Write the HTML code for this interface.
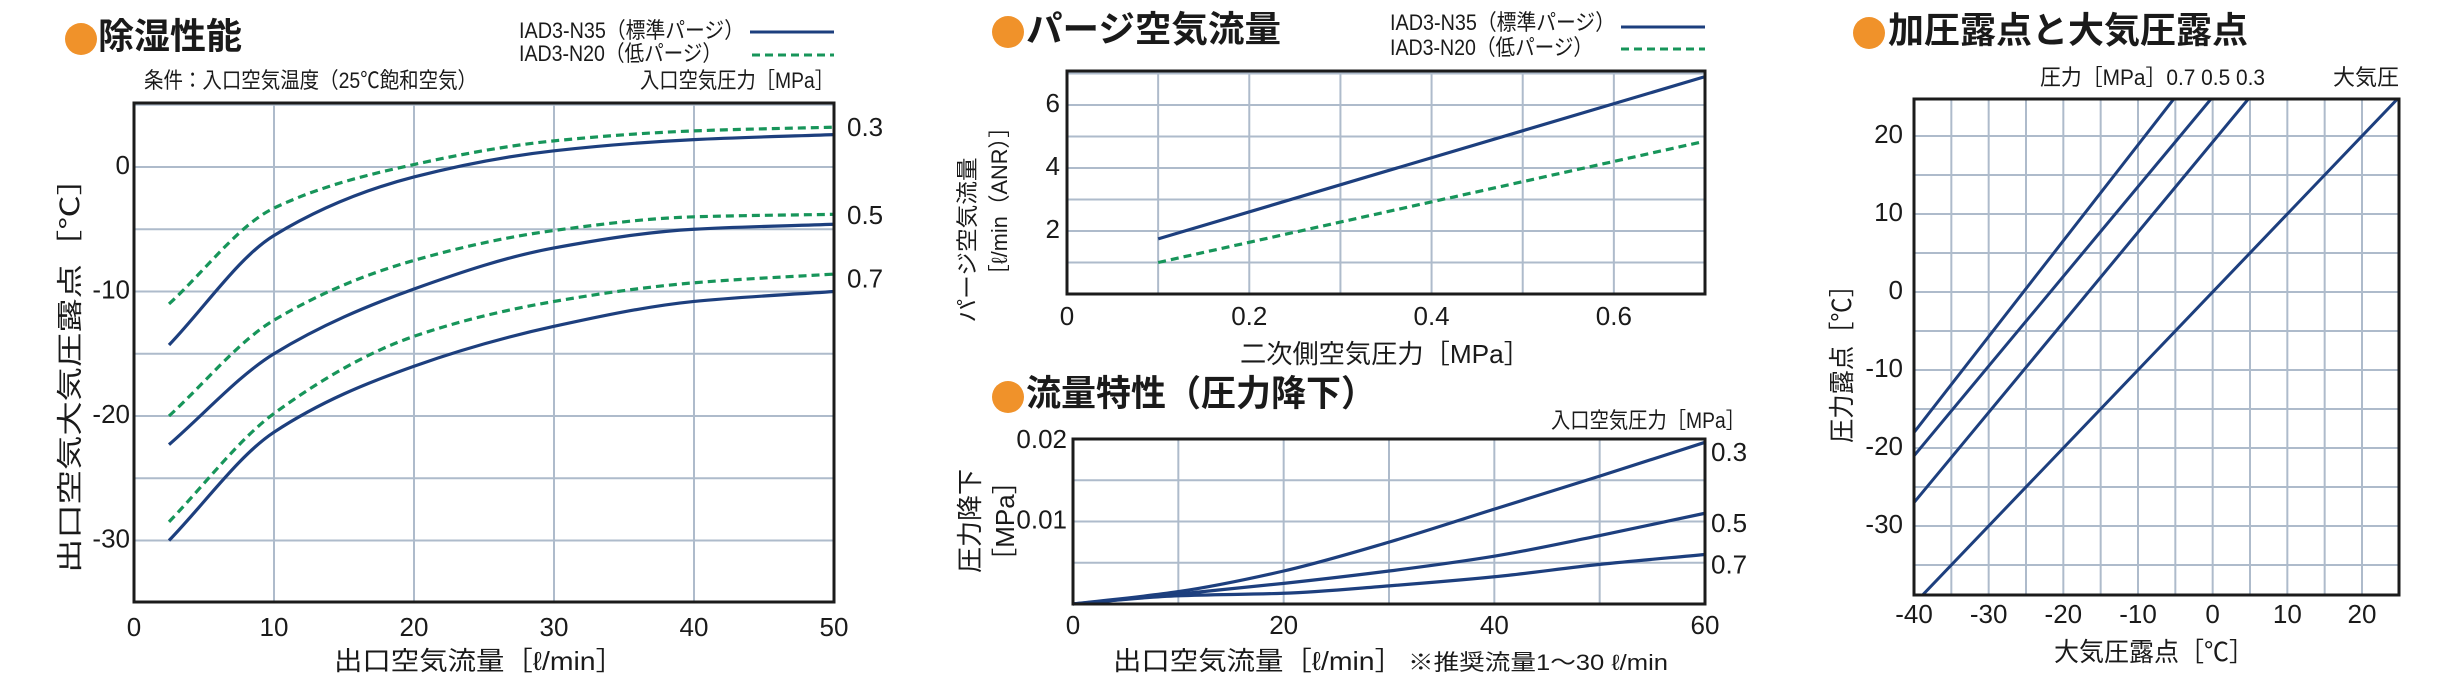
<!DOCTYPE html>
<html><head><meta charset="utf-8"><style>
html,body{margin:0;padding:0;background:#fff;}
svg{display:block;}
text{font-family:"Liberation Sans Narrow","Liberation Sans","Noto Sans CJK JP",sans-serif;fill:#1a1a1a;}
.t{font-weight:bold;font-size:36px;font-family:"Liberation Sans","Noto Sans CJK JP",sans-serif;}
.tk{font-size:26px;}
.lb{font-size:22px;}
</style></head><body>
<svg id="svg" width="2457" height="689" viewBox="0 0 2457 689" xmlns="http://www.w3.org/2000/svg">
<g id="static"></g>
</svg>
<script>
// ---------- Chart 1: 除湿性能 ----------
const c1X = [2.5, 10, 20, 30, 40, 50];
const c1Solid03 = [-14.3, -5.5, -0.8, 1.3, 2.2, 2.6];
const c1Dash03 = [-11, -3.3, 0.2, 2.1, 2.9, 3.2];
const c1Solid05 = [-22.3, -15, -9.8, -6.5, -5.0, -4.6];
const c1Dash05 = [-20, -12.3, -7.5, -5.1, -4.0, -3.8];
const c1Solid07 = [-30, -21.3, -16, -12.8, -10.8, -10];
const c1Dash07 = [-28.5, -19.8, -13.6, -10.8, -9.3, -8.6];
const c1XTicks = [0, 10, 20, 30, 40, 50];
const c1YTicks = [0, -10, -20, -30];
const c1Pressures = ["0.3", "0.5", "0.7"];
// ---------- Chart 2: パージ空気流量 ----------
const c2X = [0.1, 0.7];
const c2Solid = [1.75, 6.9];
const c2Dash = [1.0, 4.85];
const c2XTicks = [0, 0.2, 0.4, 0.6];
const c2YTicks = [2, 4, 6];
// ---------- Chart 3: 流量特性 ----------
const c3X = [0, 10, 20, 30, 40, 50, 60];
const c3P03 = [0, 0.0015, 0.004, 0.0075, 0.0115, 0.0155, 0.0196];
const c3P05 = [0, 0.0012, 0.0025, 0.004, 0.0058, 0.0083, 0.011];
const c3P07 = [0, 0.001, 0.0013, 0.0022, 0.0033, 0.0048, 0.006];
const c3XTicks = [0, 20, 40, 60];
const c3YTicks = [0.01, 0.02];
const c3Pressures = ["0.3", "0.5", "0.7"];
// ---------- Chart 4: 加圧露点と大気圧露点 ----------
const c4Atm = [-40, -40, 25, 25];      // x0,y0,x1,y1
const c4P03 = [-40, -27, 5, 25];
const c4P05 = [-40, -21, 0, 25];
const c4P07 = [-40, -18, -5, 25];
const c4XTicks = [-40, -30, -20, -10, 0, 10, 20];
const c4YTicks = [20, 10, 0, -10, -20, -30];

const NS = "http://www.w3.org/2000/svg";
const root = document.getElementById('svg');
const NAVY = "#1d3f7e", GREEN = "#17955a", GRID = "#aebbcb";
function mk(tag, attrs, parent) {
  const e = document.createElementNS(NS, tag);
  for (const k in attrs) e.setAttribute(k, attrs[k]);
  (parent || root).appendChild(e);
  return e;
}
function txt(x, y, s, cls, anchor, extra) {
  const a = Object.assign({x: x, y: y, class: cls || 'lb', 'text-anchor': anchor || 'start', 'dominant-baseline': 'middle'}, extra || {});
  if (a.textLength) a.lengthAdjust = 'spacingAndGlyphs';
  const e = mk('text', a);
  e.textContent = s;
  return e;
}
function scale(d0, d1, p0, p1) { return v => p0 + (v - d0) * (p1 - p0) / (d1 - d0); }
// monotone cubic (Fritsch-Carlson) path
function smooth(pts) {
  const n = pts.length;
  let d = "M" + pts[0][0] + "," + pts[0][1];
  if (n === 2) return d + " L" + pts[1][0] + "," + pts[1][1];
  const dx = [], m = [], t = [];
  for (let i = 0; i < n - 1; i++) { dx.push(pts[i + 1][0] - pts[i][0]); m.push((pts[i + 1][1] - pts[i][1]) / dx[i]); }
  t[0] = m[0]; t[n - 1] = m[n - 2];
  for (let i = 1; i < n - 1; i++) {
    if (m[i - 1] * m[i] <= 0) t[i] = 0;
    else { const w1 = 2 * dx[i] + dx[i - 1], w2 = dx[i] + 2 * dx[i - 1]; t[i] = (w1 + w2) / (w1 / m[i - 1] + w2 / m[i]); }
  }
  for (let i = 0; i < n - 1; i++) {
    const h = dx[i] / 3;
    d += " C" + (pts[i][0] + h) + "," + (pts[i][1] + t[i] * h) + " " + (pts[i + 1][0] - h) + "," + (pts[i + 1][1] - t[i + 1] * h) + " " + pts[i + 1][0] + "," + pts[i + 1][1];
  }
  return d;
}
function grid(sx, sy, xs, ys, L, R, T, B) {
  xs.forEach(v => { const l = mk('line', {x1: sx(v), x2: sx(v), y1: T, y2: B, stroke: GRID, 'stroke-width': 2});
      });
  ys.forEach(v => { const l = mk('line', {x1: L, x2: R, y1: sy(v), y2: sy(v), stroke: GRID, 'stroke-width': 2});
      });
}
function frame(L, R, T, B, name) {
  const r = mk('rect', {x: L, y: T, width: R - L, height: B - T, fill: 'none', stroke: '#1b1b1b', 'stroke-width': 3});
   
}
function bullet(cx, cy) {
  const c = mk('circle', {cx: cx, cy: cy, r: 16, fill: '#f0922a'});
   
}
function curve(xs, ys, sx, sy, color, dashed, name) {
  const pts = xs.map((x, i) => [sx(x), sy(ys[i])]);
  const p = mk('path', {d: smooth(pts), fill: 'none', stroke: color, 'stroke-width': 3.2});
  if (dashed) p.setAttribute('stroke-dasharray', '8 5');
   
}

// ===== Chart 1 =====
(function () {
  const L = 134, R = 834, T = 103, B = 602;
  const sx = scale(0, 50, L, R), sy = scale(0, -10, 167, 291.5);
  const gx = [10, 20, 30, 40], gy = [5, 0, -5, -10, -15, -20, -25, -30];
  grid(sx, sy, gx, gy, L, R, T, B);
  curve(c1X, c1Dash03, sx, sy, GREEN, true, 'n20-curve-0.3');
  curve(c1X, c1Solid03, sx, sy, NAVY, false, 'n35-curve-0.3');
  curve(c1X, c1Dash05, sx, sy, GREEN, true, 'n20-curve-0.5');
  curve(c1X, c1Solid05, sx, sy, NAVY, false, 'n35-curve-0.5');
  curve(c1X, c1Dash07, sx, sy, GREEN, true, 'n20-curve-0.7');
  curve(c1X, c1Solid07, sx, sy, NAVY, false, 'n35-curve-0.7');
  frame(L, R, T, B, 'dehumidify-plot-frame');
  bullet(81, 39);
  let e = txt(98, 39, '除湿性能', 't');  
  e = txt(519, 32, 'IAD3-N35（標準パージ）', 'lb', 'start', {textLength: 225});  
  e = txt(519, 55, 'IAD3-N20（低パージ）', 'lb', 'start', {textLength: 203});  
  e = mk('line', {x1: 750, x2: 834, y1: 32, y2: 32, stroke: NAVY, 'stroke-width': 3});  
  e = mk('line', {x1: 752, x2: 834, y1: 55, y2: 55, stroke: GREEN, 'stroke-width': 3, 'stroke-dasharray': '8 5'});  
  e = txt(144, 82, '条件：入口空気温度（25℃飽和空気）', 'lb', 'start', {textLength: 333});  
  e = txt(834, 82, '入口空気圧力［MPa］', 'lb', 'end', {textLength: 194});  
  const lastS = [c1Solid03, c1Solid05, c1Solid07], lastD = [c1Dash03, c1Dash05, c1Dash07];
  c1Pressures.forEach((p, i) => {
    const yy = (sy(lastS[i][5]) + sy(lastD[i][5])) / 2 - 2;
    const t = txt(847, yy, p, 'tk');  
  });
  c1XTicks.forEach(v => { const t = txt(sx(v), 629, String(v), 'tk', 'middle');   });
  c1YTicks.forEach(v => { const t = txt(130, sy(v), String(v), 'tk', 'end');   });
  e = txt(479, 663, '出口空気流量［ℓ/min］', 'tk', 'middle', {textLength: 290});  
  e = txt(0, 0, '出口空気大気圧露点［℃］', 'tk', 'middle', {transform: 'translate(72,367) rotate(-90)', textLength: 412});  
})();

// ===== Chart 2 =====
(function () {
  const L = 1067, R = 1705, T = 71, B = 294;
  const sx = scale(0, 0.7, L, R), sy = scale(0, 6, B, 105);
  grid(sx, sy, [0.1, 0.2, 0.3, 0.4, 0.5, 0.6], [1, 2, 3, 4, 5, 6, 7], L, R, T, B);
  curve(c2X, c2Dash, sx, sy, GREEN, true, 'n20-purge-line');
  curve(c2X, c2Solid, sx, sy, NAVY, false, 'n35-purge-line');
  frame(L, R, T, B, 'purge-plot-frame');
  bullet(1008, 32);
  let e = txt(1026, 32, 'パージ空気流量', 't', 'start', {textLength: 255});  
  e = txt(1390, 24, 'IAD3-N35（標準パージ）', 'lb', 'start', {textLength: 225});  
  e = txt(1390, 49, 'IAD3-N20（低パージ）', 'lb', 'start', {textLength: 203});  
  e = mk('line', {x1: 1621, x2: 1705, y1: 27, y2: 27, stroke: NAVY, 'stroke-width': 3});  
  e = mk('line', {x1: 1621, x2: 1705, y1: 49, y2: 49, stroke: GREEN, 'stroke-width': 3, 'stroke-dasharray': '8 5'});  
  c2XTicks.forEach(v => { const t = txt(sx(v), 318, v === 0 ? '0' : v.toFixed(1), 'tk', 'middle');   });
  c2YTicks.forEach(v => { const t = txt(1060, sy(v), String(v), 'tk', 'end');   });
  e = txt(1385, 356, '二次側空気圧力［MPa］', 'tk', 'middle', {textLength: 290});  
  e = txt(0, 0, 'パージ空気流量', 'lb', 'middle', {transform: 'translate(969,240) rotate(-90)', textLength: 165});  
  e = txt(0, 0, '［ℓ/min（ANR）］', 'lb', 'middle', {transform: 'translate(1001,201) rotate(-90)', textLength: 170});  
})();

// ===== Chart 3 =====
(function () {
  const L = 1073, R = 1705, T = 439, B = 604;
  const sx = scale(0, 60, L, R), sy = scale(0, 0.02, B, T);
  grid(sx, sy, [10, 20, 30, 40, 50], [0.005, 0.01, 0.015], L, R, T, B);
  curve(c3X, c3P07, sx, sy, NAVY, false, 'pressure-drop-0.7');
  curve(c3X, c3P05, sx, sy, NAVY, false, 'pressure-drop-0.5');
  curve(c3X, c3P03, sx, sy, NAVY, false, 'pressure-drop-0.3');
  frame(L, R, T, B, 'flow-plot-frame');
  bullet(1008, 397);
  let e = txt(1026, 396, '流量特性（圧力降下）', 't', 'start', {textLength: 350});  
  e = txt(1745, 422, '入口空気圧力［MPa］', 'lb', 'end', {textLength: 194});  
  const series = [c3P03, c3P05, c3P07];
  c3Pressures.forEach((p, i) => {
    const t = txt(1711, sy(series[i][6]) + 12, p, 'tk');  
  });
  c3XTicks.forEach(v => { const t = txt(sx(v), 627, String(v), 'tk', 'middle');   });
  c3YTicks.forEach(v => { const t = txt(1067, sy(v) + (v === 0.02 ? 2 : 0), String(v), 'tk', 'end');   });
  e = txt(1258, 663, '出口空気流量［ℓ/min］', 'tk', 'middle', {textLength: 290});  
  e = txt(1408, 664, '※推奨流量1～30 ℓ/min', 'lb', 'start', {textLength: 260});  
  e = txt(0, 0, '圧力降下', 'tk', 'middle', {transform: 'translate(972,521) rotate(-90)'});  
  e = txt(0, 0, '［MPa］', 'tk', 'middle', {transform: 'translate(1007,521) rotate(-90)'});  
})();

// ===== Chart 4 =====
(function () {
  const L = 1914, R = 2399, T = 99, B = 595;
  const sx = scale(-40, 20, L, 2362), sy = scale(20, -30, 136, 526);
  const gx = [], gy = [];
  for (let v = -35; v <= 20; v += 5) gx.push(v);
  for (let v = 20; v >= -35; v -= 5) gy.push(v);
  grid(sx, sy, gx, gy, L, R, T, B);
  const lines = [[c4Atm, 'atmospheric'], [c4P03, '0.3'], [c4P05, '0.5'], [c4P07, '0.7']];
  const clip = mk('clipPath', {id: 'c4clip'});
  mk('rect', {x: L, y: T, width: R - L, height: B - T}, clip);
  lines.forEach(([d, n]) => {
    const l = mk('line', {x1: sx(d[0]), y1: sy(d[1]), x2: sx(d[2]), y2: sy(d[3]), stroke: NAVY, 'stroke-width': 3, 'clip-path': 'url(#c4clip)'});
     
  });
  frame(L, R, T, B, 'dewpoint-plot-frame');
  bullet(1869, 33);
  let e = txt(1888, 33, '加圧露点と大気圧露点', 't', 'start', {textLength: 360});  
  e = txt(2040, 79, '圧力［MPa］0.7 0.5 0.3', 'lb', 'start', {textLength: 225});  
  e = txt(2399, 79, '大気圧', 'lb', 'end');  
  c4XTicks.forEach(v => { const t = txt(sx(v), 616, String(v), 'tk', 'middle');   });
  c4YTicks.forEach(v => { const t = txt(1903, sy(v), String(v), 'tk', 'end');   });
  e = txt(2154, 654, '大気圧露点［℃］', 'tk', 'middle', {textLength: 200});  
  e = txt(0, 0, '圧力露点［℃］', 'tk', 'middle', {transform: 'translate(1844,358) rotate(-90)', textLength: 170});  
})();
</script>
</body></html>
